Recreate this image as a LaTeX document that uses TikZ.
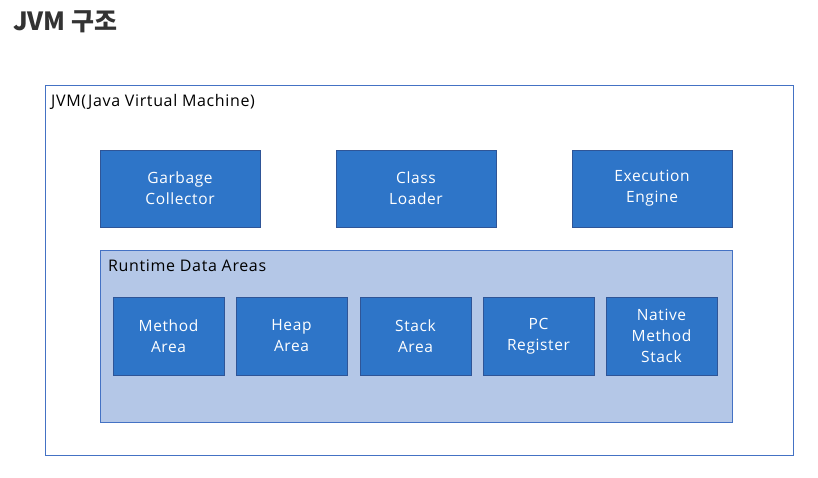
\documentclass[tikz,border=0pt]{standalone}
\usepackage{fontspec}
\setmainfont{Open Sans}
\newfontfamily\krfont{Noto Sans CJK KR}
\newfontfamily\widefont[LetterSpace=4,WordSpace=1.9]{Open Sans}
\newfontfamily\boxfont[LetterSpace=4]{Open Sans}
\definecolor{boxfill}{RGB}{46,117,200}
\definecolor{boxline}{RGB}{47,85,151}
\definecolor{areafill}{RGB}{180,199,231}
\definecolor{outerline}{RGB}{68,114,196}
\definecolor{titlecol}{RGB}{51,51,51}
\begin{document}
\begin{tikzpicture}[x=1pt,y=-1pt,
  comp/.style={draw=boxline, line width=0.6pt, fill=boxfill, text=white, align=center,
    font=\boxfont\fontsize{15.5}{21}\selectfont, inner sep=0pt},
  lbl/.style={anchor=west, font=\widefont\fontsize{16}{19}\selectfont, inner sep=0pt}]
\useasboundingbox (0,0) rectangle (818,477);
\node[anchor=west, inner sep=0pt, text=titlecol, font=\krfont\fontsize{25}{30}\selectfont\bfseries] (title) at (13,22) {JVM 구조};
\draw[outerline, line width=0.8pt] (45,85) rectangle (793,455);
\node[lbl] (jvm) at (51,102) {JVM(Java Virtual Machine)};
\node[comp, minimum width=160pt, minimum height=77pt] (gc) at (180,188.5) {Garbage\\Collector};
\node[comp, minimum width=160pt, minimum height=77pt] (cl) at (416,188.5) {Class\\Loader};
\node[comp, minimum width=160pt, minimum height=77pt] (ee) at (652,188.5) {Execution\\Engine};
\draw[draw=outerline, fill=areafill, line width=0.8pt] (100,250) rectangle (732,422);
\node[lbl] (rda) at (108,266) {Runtime Data Areas};
\node[comp, minimum width=111pt, minimum height=78pt] (ma) at (168.5,336) {Method\\Area};
\node[comp, minimum width=111pt, minimum height=78pt] (ha) at (291.5,336) {Heap\\Area};
\node[comp, minimum width=111pt, minimum height=78pt] (sa) at (415.5,336) {Stack\\Area};
\node[comp, minimum width=111pt, minimum height=78pt] (pc) at (538.5,336) {PC\\Register};
\node[comp, minimum width=111pt, minimum height=78pt] (nm) at (661.5,336) {Native\\Method\\Stack};
\end{tikzpicture}
\end{document}
